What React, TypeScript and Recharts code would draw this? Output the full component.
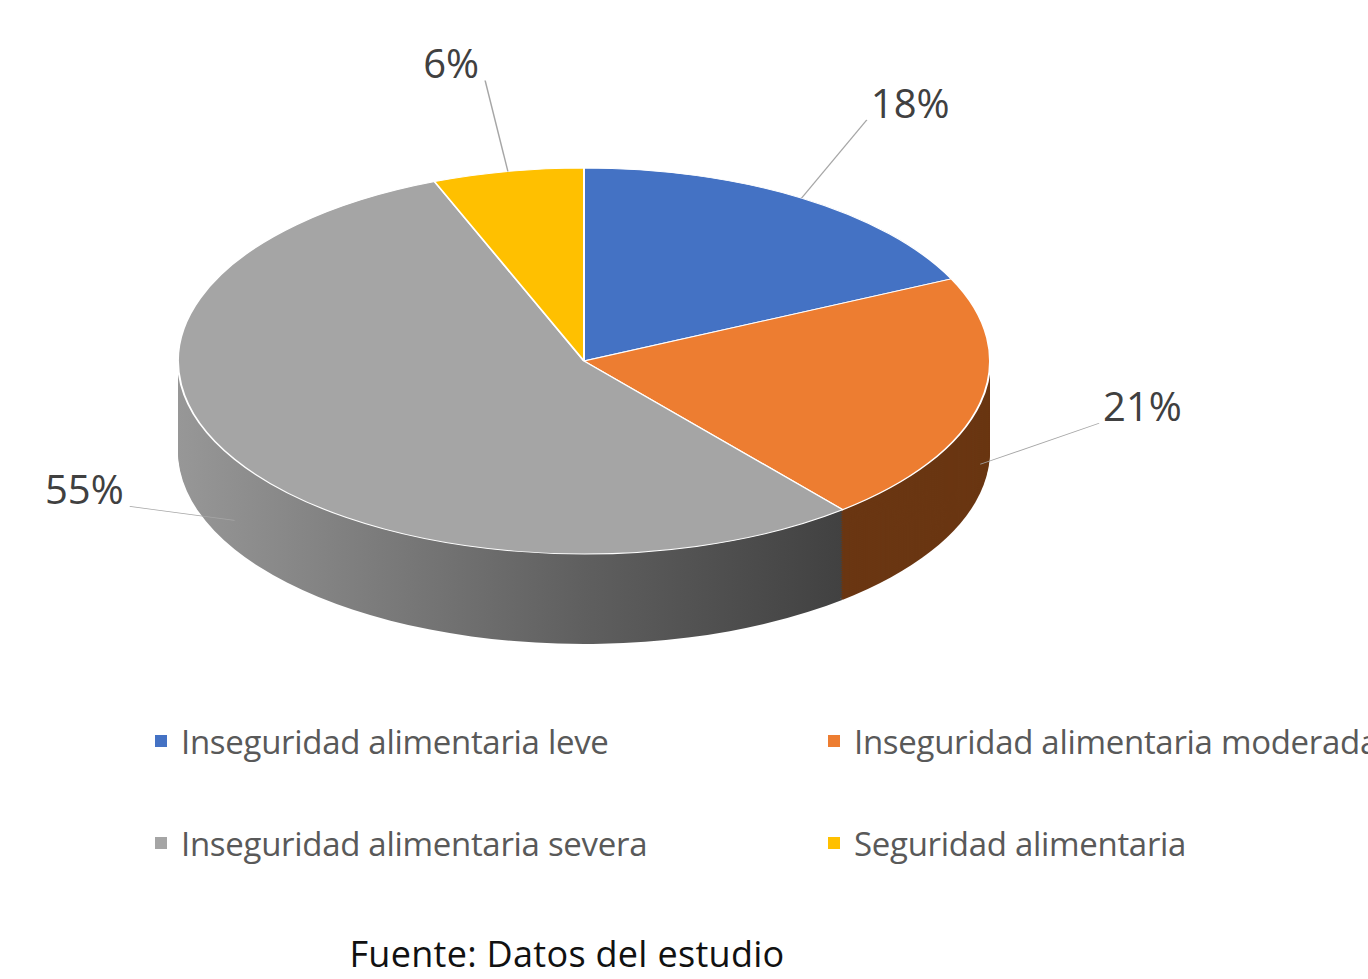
import { PieChart, Pie, Cell } from 'recharts'

// Inseguridad alimentaria — 3D-looking pie (Excel style)
const categories = [
  'Inseguridad alimentaria leve',
  'Inseguridad alimentaria moderada',
  'Inseguridad alimentaria severa',
  'Seguridad alimentaria',
]
const shares = [18, 21, 55, 6]
const topColors = ['#4472C4', '#ED7D31', '#A5A5A5', '#FFC000']
const sideColors = ['#2b4c86', '#6a3612', 'url(#graySide)', '#a67c00']

const W = 1368
const SQUASH = 193 / 406 // flattening of the disc
const R = 406
const CX = 584
const CY = 361 / SQUASH
const DEPTH = 90 / SQUASH
const LAYERS = 45
const CH = 700 / SQUASH
const RAD = Math.PI / 180
const FONT = "'Open Sans', 'Noto Sans', sans-serif"

const data = categories.map((name, i) => ({ name, value: shares[i] }))

function renderLabel(props: any) {
  const { cx, cy, midAngle, outerRadius, value } = props
  const cos = Math.cos(-midAngle * RAD)
  const sin = Math.sin(-midAngle * RAD)
  // front slices hook their leader onto the side wall
  const drop = sin > 0 ? DEPTH * 0.68 : 0
  const ax = cx + outerRadius * cos
  const ay = cy + outerRadius * sin + drop
  const ex = cx + outerRadius * 1.3 * cos
  const ey = cy + outerRadius * 1.48 * sin
  const right = cos >= 0
  const tx = right ? ex + 4 : ex - 6
  return (
    <g>
      <polyline
        points={`${ax},${ay} ${ex},${ey}`}
        stroke="#a6a6a6"
        strokeWidth={1.5}
        fill="none"
        vectorEffect="non-scaling-stroke"
      />
      <text
        transform={`translate(${tx} ${ey - 2 / SQUASH}) scale(1 ${1 / SQUASH})`}
        textAnchor={right ? 'start' : 'end'}
        fontSize={40}
        fontFamily={FONT}
        fill="#404040"
      >
        {`${value}%`}
      </text>
    </g>
  )
}

export default function App() {
  const layers = Array.from({ length: LAYERS }, (_, k) => LAYERS - k)

  return (
    <div style={{ position: 'relative', width: W, height: 979, overflow: 'hidden', background: '#fff' }}>
      <style>{`body{margin:0} .top-face path{vector-effect:non-scaling-stroke}`}</style>

      <div style={{ position: 'absolute', left: 0, top: 0, transform: `scaleY(${SQUASH})`, transformOrigin: '0 0' }}>
        <PieChart width={W} height={CH} margin={{ top: 0, right: 0, bottom: 0, left: 0 }}>
          <defs>
            <linearGradient id="graySide" gradientUnits="userSpaceOnUse" x1={CX - R} y1={0} x2={CX + R} y2={0}>
              <stop offset="0" stopColor="#979797" />
              <stop offset="0.5" stopColor="#5f5f5f" />
              <stop offset="0.84" stopColor="#3f3f3f" />
              <stop offset="1" stopColor="#383838" />
            </linearGradient>
          </defs>

          {/* side wall: stacked copies of the disc */}
          {layers.map((k) => (
            <Pie
              key={k}
              data={data}
              dataKey="value"
              cx={CX}
              cy={CY + (DEPTH * k) / LAYERS}
              outerRadius={R}
              startAngle={90}
              endAngle={-270}
              stroke="none"
              isAnimationActive={false}
            >
              {data.map((d, i) => (
                <Cell key={d.name} fill={sideColors[i]} />
              ))}
            </Pie>
          ))}

          {/* top face */}
          <Pie
            className="top-face"
            data={data}
            dataKey="value"
            cx={CX}
            cy={CY}
            outerRadius={R}
            startAngle={90}
            endAngle={-270}
            stroke="#ffffff"
            strokeWidth={2}
            label={renderLabel}
            labelLine={false}
            isAnimationActive={false}
          >
            {data.map((d, i) => (
              <Cell key={d.name} fill={topColors[i]} />
            ))}
          </Pie>
        </PieChart>
      </div>

      <div
        style={{
          position: 'absolute',
          left: 155,
          top: 721,
          display: 'grid',
          gridTemplateColumns: '673px 560px',
          gridAutoRows: '40px',
          rowGap: 62,
          fontFamily: FONT,
          fontSize: 33,
          letterSpacing: -0.3,
          color: '#595959',
          whiteSpace: 'nowrap',
        }}
      >
        {categories.map((c, i) => (
          <div key={c} style={{ display: 'flex', alignItems: 'center' }}>
            <span style={{ width: 12, height: 12, background: topColors[i], marginRight: 14, flex: 'none' }} />
            <span>{c}</span>
          </div>
        ))}
      </div>

      <div
        style={{
          position: 'absolute',
          left: 0,
          width: 1134,
          top: 932,
          lineHeight: '44px',
          textAlign: 'center',
          fontFamily: FONT,
          fontSize: 36,
          letterSpacing: 0.3,
          color: '#111',
          whiteSpace: 'nowrap',
        }}
      >
        Fuente: Datos del estudio
      </div>
    </div>
  )
}
